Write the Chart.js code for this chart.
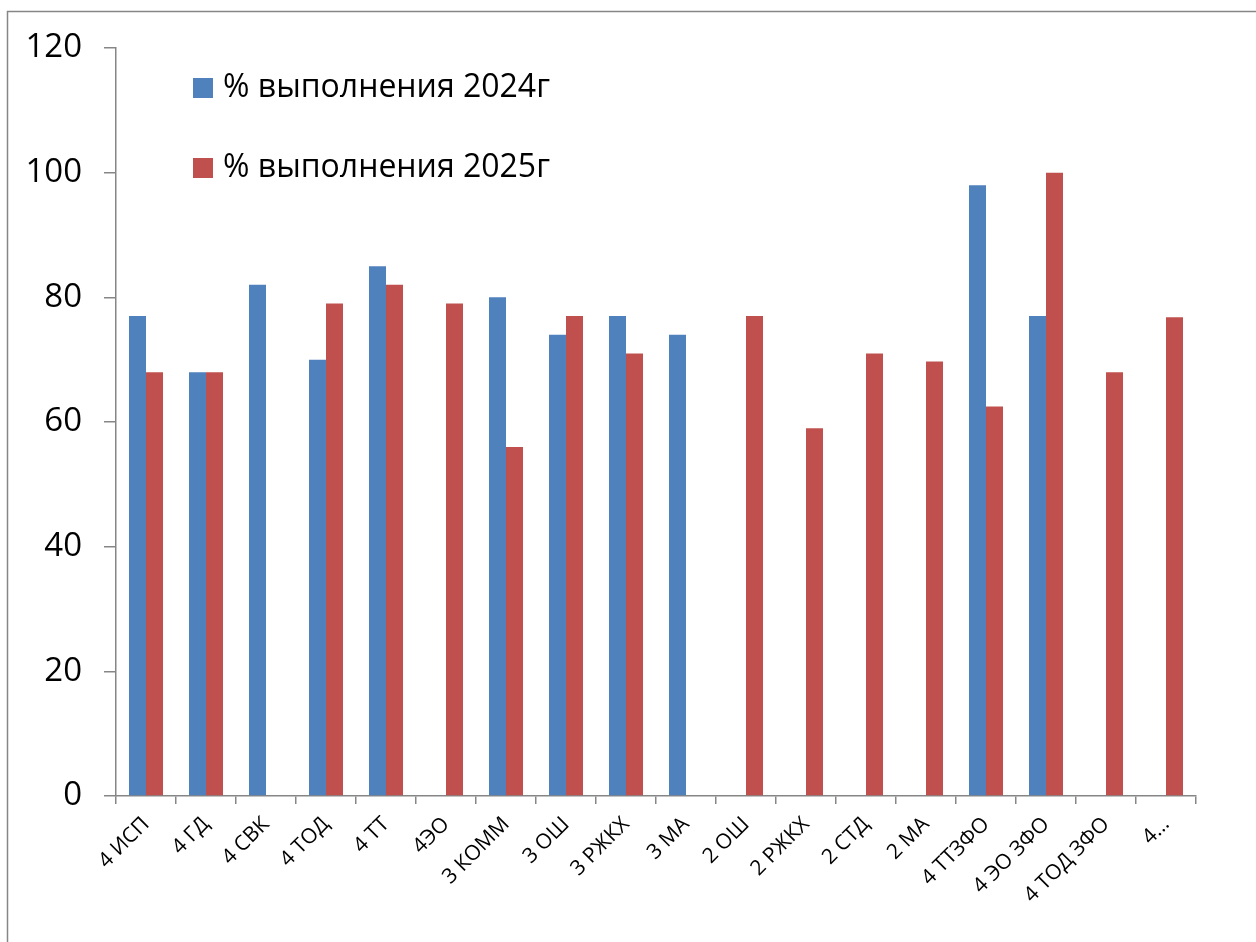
<!DOCTYPE html>
<html>
<head>
<meta charset="utf-8">
<script src="https://cdn.jsdelivr.net/npm/chart.js@4/dist/chart.umd.min.js"></script>
<style>
  body { margin: 0; background: #fff; }
</style>
</head>
<body>
<canvas id="planChart" width="1256" height="942"></canvas>
<script>
// categories and values
const groups = ['4 ИСП', '4 ГД', '4 СВК', '4 ТОД', '4 ТТ', '4ЭО', '3 КОММ', '3 ОШ', '3 РЖКХ', '3 МА',
    '2 ОШ', '2 РЖКХ', '2 СТД', '2 МА', '4 ТТЗФО', '4 ЭО ЗФО', '4 ТОД ЗФО', '4…'];
const done2024 = [77, 68, 82, 70, 85, null, 80, 74, 77, 74, null, null, null, null, 98, 77, null, null];
const done2025 = [68, 68, null, 79, 82, 79, 56, 77, 71, null, 77, 59, 71, 69.7, 62.5, 100, 68, 76.8];
const yTicks = [0, 20, 40, 60, 80, 100, 120];

const axisGray = '#868686';
const fontName = "'Open Sans', sans-serif";

// frame around the whole chart + legend inside plot area
const framePlugin = {
    id: 'frame',
    beforeDraw(chart) {
        let ctx = chart.ctx;
        ctx.save();
        ctx.strokeStyle = axisGray;
        ctx.lineWidth = 1.5;
        ctx.strokeRect(7.5, 11.5, 1260, 940);
        ctx.restore();
    },
    afterDraw(chart) {
        let ctx = chart.ctx;
        ctx.save();
        ctx.font = '32px ' + fontName;
        ctx.textBaseline = 'middle';
        chart.data.datasets.forEach(function(ds, i) {
            let y = 88 + i * 80;
            ctx.fillStyle = ds.backgroundColor;
            ctx.fillRect(193, y - 10, 20, 20);
            ctx.fillStyle = '#000';
            ctx.fillText(ds.label, 223, y);
        });
        ctx.restore();
    }
};

let ctxB = document.getElementById('planChart').getContext('2d');
new Chart(ctxB, {
    type: 'bar',
    data: {
        labels: groups,
        datasets: [{
            label: '% выполнения 2024г',
            data: done2024,
            backgroundColor: '#4F81BD'
        },
            {
                label: '% выполнения 2025г',
                data: done2025,
                backgroundColor: '#C0504D'
            }
        ]
    },
    options: {
        responsive: false,
        animation: false,
        layout: {
            padding: {left: 16, top: 48, right: 60, bottom: 0}
        },
        datasets: {
            bar: {categoryPercentage: 0.567, barPercentage: 1.0}
        },
        plugins: {
            legend: {display: false},
            tooltip: {enabled: false}
        },
        scales: {
            x: {
                afterFit: function(s) { s.height = 146; },
                grid: {drawOnChartArea: false, tickLength: 8, color: axisGray, lineWidth: 1.5, offset: true},
                border: {color: axisGray, width: 1.5},
                ticks: {
                    autoSkip: false,
                    maxRotation: 45,
                    minRotation: 45,
                    padding: 8,
                    color: '#000',
                    font: {family: fontName, size: 21}
                }
            },
            y: {
                min: 0,
                max: 120,
                afterFit: function(s) { s.width = 100; },
                afterBuildTicks: function(s) { s.ticks = yTicks.map(v => ({value: v})); },
                grid: {drawOnChartArea: false, tickLength: 12, color: axisGray, lineWidth: 1.5},
                border: {color: axisGray, width: 1.5},
                ticks: {
                    padding: 22,
                    color: '#000',
                    font: {family: fontName, size: 33}
                }
            }
        }
    },
    plugins: [framePlugin]
});
</script>
</body>
</html>
